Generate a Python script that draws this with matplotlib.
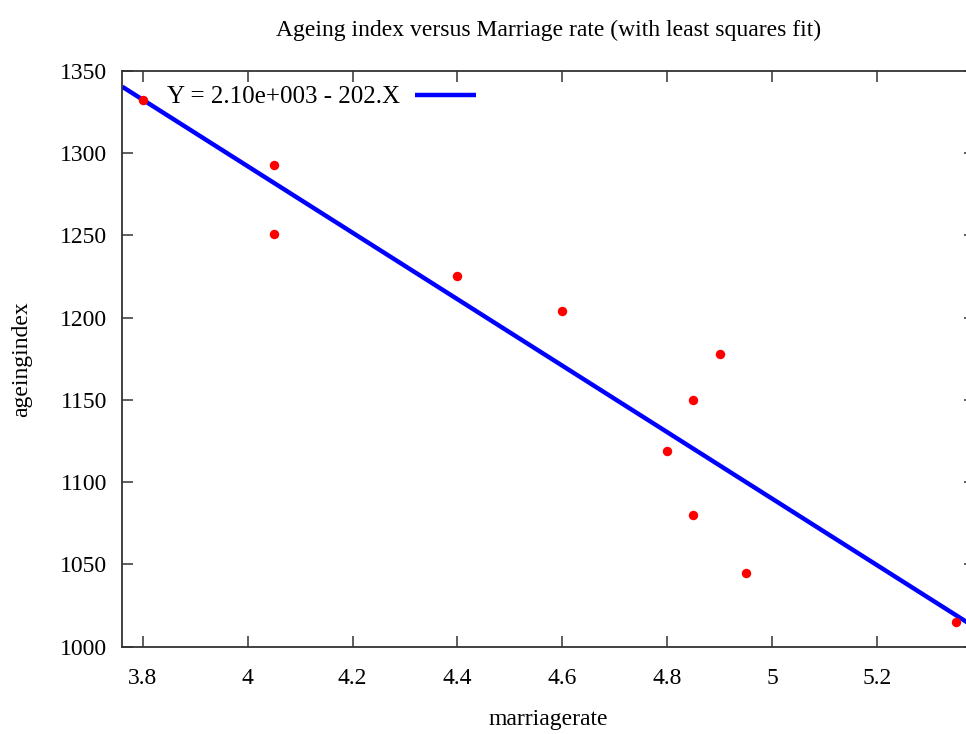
import numpy as np
import matplotlib
matplotlib.use("Agg")
import matplotlib.pyplot as plt

# Observations
marriage_rate = [3.8, 4.05, 4.05, 4.4, 4.6, 4.8, 4.85, 4.85, 4.9, 4.95, 5.35]
ageing_index = [1332, 1293, 1251, 1225, 1204, 1119, 1150, 1080, 1178, 1045, 1015]

# Least squares fit coefficients: Y = intercept + slope * X
intercept = 2.10e3
slope = -202.0

x_ticks = [3.8, 4.0, 4.2, 4.4, 4.6, 4.8, 5.0, 5.2]
x_tick_labels = ["3.8", "4", "4.2", "4.4", "4.6", "4.8", "5", "5.2"]
y_ticks = [1000, 1050, 1100, 1150, 1200, 1250, 1300, 1350]


def gp_sci(v):
    """Format like 2.10e+003 (three-digit exponent)."""
    m, e = f"{v:.2e}".split("e")
    sign = "+" if int(e) >= 0 else "-"
    return f"{m}e{sign}{abs(int(e)):03d}"


plt.rcParams["font.family"] = ["Liberation Serif", "DejaVu Serif"]
plt.rcParams["font.size"] = 17

fig = plt.figure(figsize=(9.66, 7.34), dpi=100)
ax = fig.add_axes([0.1266, 0.1189, 0.8827, 0.7847])

xlim = (3.761, 5.387)
ylim = (1000, 1350)

fx = np.array(xlim)
label = f"Y = {gp_sci(intercept)} - {abs(slope):.0f}.X"
ax.plot(fx, intercept + slope * fx, color="#0000ff", lw=3.2, label=label,
        solid_capstyle="butt", zorder=2)
ax.plot(marriage_rate, ageing_index, linestyle="none", marker="o",
        markersize=6.8, color="#ff0000", markeredgewidth=0, zorder=3)

ax.set_xlim(*xlim)
ax.set_ylim(*ylim)
ax.set_xticks(x_ticks)
ax.set_xticklabels(x_tick_labels)
ax.set_yticks(y_ticks)

ax.tick_params(direction="in", length=8, width=1.1, color="#333333",
               top=True, right=True, labelsize=17)
ax.tick_params(axis="x", pad=15)
ax.tick_params(axis="y", pad=11)
for s in ax.spines.values():
    s.set_color("#333333")
    s.set_linewidth(1.3)

ax.set_title("Ageing index versus Marriage rate (with least squares fit)",
             fontsize=17, pad=25)
ax.set_xlabel("marriagerate", fontsize=17)
ax.xaxis.set_label_coords(0.5, -0.108)
ax.set_ylabel("ageingindex", fontsize=17, labelpad=20)

leg = ax.legend(loc="upper left", frameon=False, markerfirst=False,
                handlelength=2.45, handletextpad=0.6, fontsize=18,
                borderaxespad=0.2, bbox_to_anchor=(0.035, 1.0))

fig.savefig("out.png", dpi=100)
